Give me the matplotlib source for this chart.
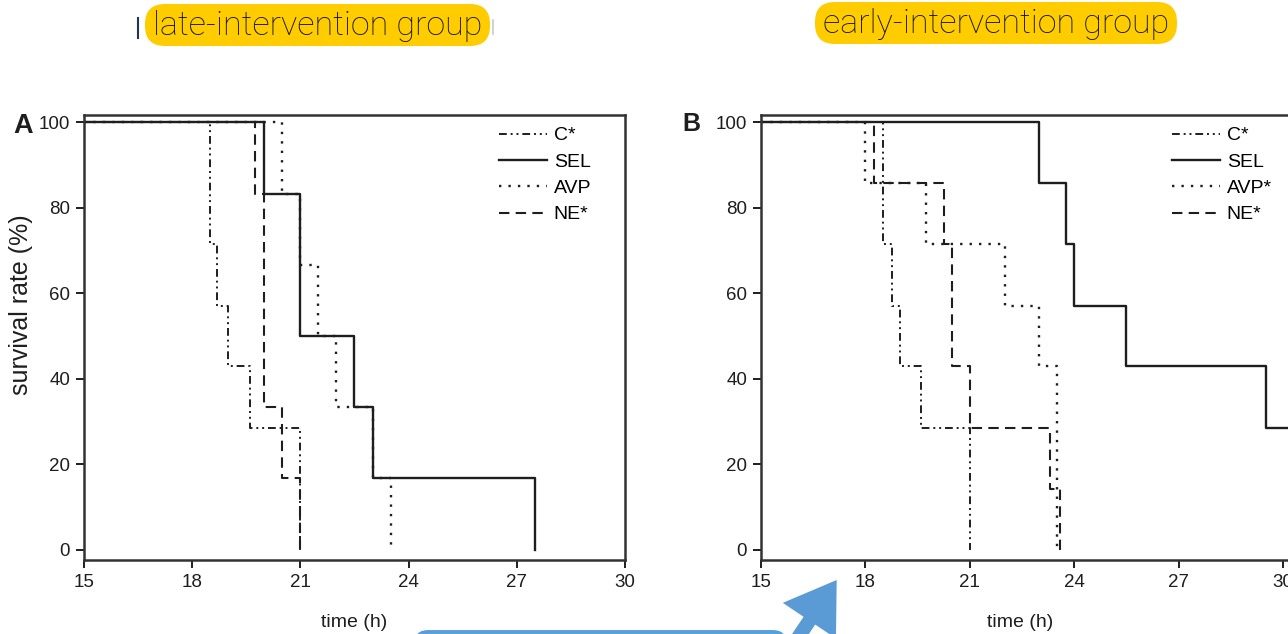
import matplotlib
matplotlib.use("Agg")
import matplotlib.pyplot as plt
from matplotlib.patches import FancyBboxPatch, FancyArrow
from matplotlib.lines import Line2D
from matplotlib.transforms import IdentityTransform

# ---------------- data ----------------
series_names_A = ["C*", "SEL", "AVP", "NE*"]
series_names_B = ["C*", "SEL", "AVP*", "NE*"]

# Panel A (late intervention): event times (h) and survival (%)
c_A_time = [15, 18.5, 18.7, 19.0, 19.6, 21.0]
c_A_surv = [100, 71.4, 57.1, 42.9, 28.6, 0]
sel_A_time = [15, 20.0, 21.0, 22.5, 23.0, 27.5]
sel_A_surv = [100, 83.3, 50.0, 33.3, 16.7, 0]
avp_A_time = [15, 20.5, 21.0, 21.5, 22.0, 23.0, 23.5]
avp_A_surv = [100, 83.3, 66.7, 50.0, 33.3, 16.7, 0]
ne_A_time = [15, 19.75, 20.0, 20.5, 21.0]
ne_A_surv = [100, 83.3, 33.3, 16.7, 0]

# Panel B (early intervention)
c_B_time = [15, 18.5, 18.75, 19.0, 19.6, 21.0]
c_B_surv = [100, 71.4, 57.1, 42.9, 28.6, 0]
sel_B_time = [15, 23.0, 23.75, 24.0, 25.5, 29.5, 30.2]
sel_B_surv = [100, 85.7, 71.4, 57.1, 42.9, 28.6, 28.6]
avp_B_time = [15, 18.0, 19.75, 22.0, 23.0, 23.5]
avp_B_surv = [100, 85.7, 71.4, 57.1, 42.9, 0]
ne_B_time = [15, 18.25, 20.25, 20.5, 21.0, 23.3, 23.6]
ne_B_surv = [100, 85.7, 71.4, 42.9, 28.6, 14.3, 0]

x_ticks = [15, 18, 21, 24, 27, 30]
y_ticks = [0, 20, 40, 60, 80, 100]

top_labels = ["late-intervention group", "early-intervention group"]

# ---------------- styles ----------------
W, H = 1288, 634
INK = "#1e1e1e"
styles = {
    "C": dict(color=INK, lw=1.4, linestyle=(0, (4, 2, 1, 2, 1, 2))),
    "SEL": dict(color=INK, lw=1.7, linestyle="-"),
    "AVP": dict(color=INK, lw=1.7, linestyle=(0, (1, 3))),
    "NE": dict(color=INK, lw=1.5, linestyle=(0, (5, 3))),
}

plt.rcParams["font.family"] = ["Liberation Sans", "DejaVu Sans"]

fig = plt.figure(figsize=(W / 100, H / 100), dpi=100)


def frac_rect(x0, y0, x1, y1):
    return [x0 / W, 1 - y1 / H, (x1 - x0) / W, (y1 - y0) / H]


axA = fig.add_axes(frac_rect(84, 115, 625, 560))
axB = fig.add_axes(frac_rect(761, 115, 1290, 560))


def draw_panel(ax, data, names, xmax):
    keys = ["C", "SEL", "AVP", "NE"]
    handles = []
    for key, (t, s), name in zip(keys, data, names):
        ln, = ax.step(t, s, where="post", label=name, **styles[key])
        handles.append(ln)
    ax.set_xlim(15, xmax)
    ax.set_ylim(-2.35, 101.65)
    ax.set_xticks(x_ticks)
    ax.set_yticks(y_ticks)
    ax.tick_params(direction="out", length=6, width=1.4, labelsize=13.5,
                   colors=INK, pad=4)
    for sp in ax.spines.values():
        sp.set_linewidth(1.8)
        sp.set_color("#333333")
    ax.set_xlabel("time (h)", fontsize=14, color=INK)
    return handles


hA = draw_panel(axA, [(c_A_time, c_A_surv), (sel_A_time, sel_A_surv),
                      (avp_A_time, avp_A_surv), (ne_A_time, ne_A_surv)],
                series_names_A, 30)
hB = draw_panel(axB, [(c_B_time, c_B_surv), (sel_B_time, sel_B_surv),
                      (avp_B_time, avp_B_surv), (ne_B_time, ne_B_surv)],
                series_names_B, 30.2)

axA.set_ylabel("survival rate (%)", fontsize=18, color=INK)
axA.yaxis.set_label_coords(-0.094, 0.573)
axA.xaxis.set_label_coords(0.5, -0.121)
axB.xaxis.set_label_coords(0.49, -0.121)

for ax, handles, names, x in [(axA, hA, series_names_A, 489), (axB, hB, series_names_B, 1162)]:
    ax.legend(handles, names, loc="upper left",
              bbox_to_anchor=(x / W, 1 - 117 / H), bbox_transform=fig.transFigure,
              frameon=False, borderpad=0, handlelength=2.5, handletextpad=0.33,
              labelspacing=0.45, fontsize=14)

# panel letters
fig.text(23 / W, 1 - 126 / H, "A", fontsize=19.5, fontweight="bold",
         ha="center", va="center", color=INK)
fig.text(691 / W, 1 - 124 / H, "B", fontsize=18, fontweight="bold",
         ha="center", va="center", color=INK)

# yellow highlighted headings
for (x0, y0, x1, y1), txt in zip([(145, 4, 490, 46), (815, 2, 1177, 44)], top_labels):
    box = FancyBboxPatch((x0, H - y1), x1 - x0, y1 - y0,
                         boxstyle="round,pad=0,rounding_size=20",
                         fc="#FFCC00", ec="none", transform=IdentityTransform())
    fig.add_artist(box)
    fig.text((x0 + x1) / 2 / W, 1 - ((y0 + y1) / 2 + 1) / H, txt,
             fontsize=24.5, family=["Roboto", "DejaVu Sans"], fontweight="light",
             color="#101008", ha="center", va="center")

# small cursor marks
fig.add_artist(Line2D([138, 138], [H - 18, H - 38], color="#1f3550", lw=1.5,
                      transform=IdentityTransform()))
fig.add_artist(Line2D([493, 493], [H - 20, H - 34], color="#c8c8c8", lw=1.2,
                      transform=IdentityTransform()))

# blue rounded rectangle (partially visible) and arrow
rect = FancyBboxPatch((416, H - 700), 369, 68,
                      boxstyle="round,pad=0,rounding_size=12",
                      fc="white", ec="#55A0DA", lw=2.8, transform=IdentityTransform())
fig.add_artist(rect)
arrow = FancyArrow(781, H - 663, 55.7, 83, width=14, head_width=64, head_length=49,
                   length_includes_head=True, fc="#5B9BD5", ec="none",
                   transform=IdentityTransform())
fig.add_artist(arrow)

fig.savefig("out.png", dpi=100)
